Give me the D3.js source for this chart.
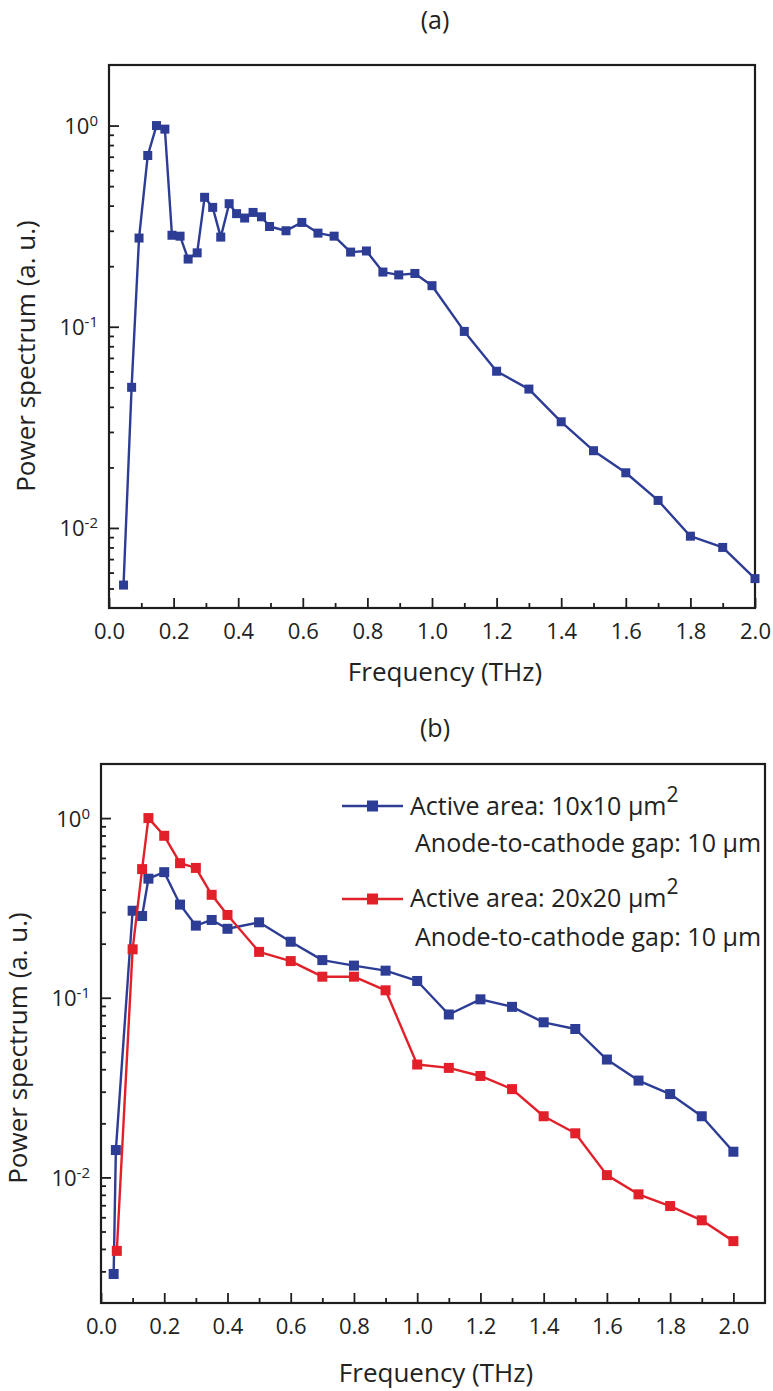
<!DOCTYPE html>
<html>
<head>
<meta charset="utf-8">
<script src="https://cdn.jsdelivr.net/npm/d3@7"></script>
<style>
  body { margin: 0; background: #fff; }
  svg text { font-family: "Open Sans", sans-serif; fill: #222; }
</style>
</head>
<body>
<svg id="chart" width="773" height="1391"></svg>
<script>
"use strict";

// ---- data ----
// (a) single device
var freqA = [0.045, 0.07, 0.093, 0.12, 0.147, 0.173, 0.195, 0.22, 0.245, 0.273, 0.296, 0.321, 0.346,
  0.372, 0.395, 0.42, 0.446, 0.472, 0.497, 0.548, 0.597, 0.647, 0.697, 0.748, 0.797, 0.848, 0.897,
  0.947, 1.0, 1.1, 1.2, 1.3, 1.4, 1.5, 1.6, 1.7, 1.8, 1.9, 2.0];
var powerA = [0.0052, 0.050, 0.276, 0.71, 1.0, 0.96, 0.285, 0.282, 0.217, 0.233, 0.44, 0.392, 0.279,
  0.409, 0.365, 0.347, 0.370, 0.352, 0.315, 0.30, 0.33, 0.292, 0.282, 0.235, 0.238, 0.187, 0.181,
  0.184, 0.160, 0.0948, 0.0601, 0.049, 0.0337, 0.0242, 0.0188, 0.0137, 0.0091, 0.0080, 0.0056];

// (b) 10x10 um2 active area
var freqB10 = [0.04, 0.047, 0.1, 0.13, 0.15, 0.2, 0.25, 0.3, 0.35, 0.4, 0.5, 0.6, 0.7, 0.8, 0.9,
  1.0, 1.1, 1.2, 1.3, 1.4, 1.5, 1.6, 1.7, 1.8, 1.9, 2.0];
var powerB10 = [0.0029, 0.0142, 0.305, 0.285, 0.46, 0.50, 0.33, 0.252, 0.271, 0.242, 0.263, 0.205,
  0.162, 0.151, 0.1415, 0.124, 0.0807, 0.098, 0.089, 0.073, 0.067, 0.0453, 0.0346, 0.0291, 0.0219, 0.0139];

// (b) 20x20 um2 active area
var freqB20 = [0.05, 0.1, 0.13, 0.15, 0.2, 0.25, 0.3, 0.35, 0.4, 0.5, 0.6, 0.7, 0.8, 0.9,
  1.0, 1.1, 1.2, 1.3, 1.4, 1.5, 1.6, 1.7, 1.8, 1.9, 2.0];
var powerB20 = [0.0039, 0.186, 0.52, 1.0, 0.797, 0.561, 0.528, 0.374, 0.289, 0.180, 0.160, 0.131,
  0.131, 0.110, 0.0425, 0.0407, 0.0367, 0.031, 0.0219, 0.0176, 0.0103, 0.00805, 0.00693, 0.00577, 0.00442];

var xTicks = [0, 0.2, 0.4, 0.6, 0.8, 1.0, 1.2, 1.4, 1.6, 1.8, 2.0];
var xTickLabels = ["0.0", "0.2", "0.4", "0.6", "0.8", "1.0", "1.2", "1.4", "1.6", "1.8", "2.0"];
var xMinorTicks = [0.1, 0.3, 0.5, 0.7, 0.9, 1.1, 1.3, 1.5, 1.7, 1.9];
var yDecades = [-2, -1, 0];

var legendLabels = ["Active area: 10x10 \u03bcm", "Active area: 20x20 \u03bcm"];
var legendNote = "Anode-to-cathode gap: 10 \u03bcm";

var BLUE = "#2d3c95", RED = "#e2202a", INK = "#1e1e1e";

var svg = d3.select("#chart");

function logMinorTicks(domain) {
  var out = [];
  for (var e = -3; e <= 0; e++) {
    for (var k = 2; k <= 9; k++) {
      var v = k * Math.pow(10, e);
      if (v > domain[0] && v < domain[1]) out.push(v);
    }
  }
  return out;
}

function drawPanel(p) {
  var g = svg.append("g");
  var x = d3.scaleLinear().domain(p.xDomain).range([p.left, p.right]);
  var y = d3.scaleLog().domain(p.yDomain).range([p.bottom, p.top]);

  // x axis, ticks pointing inward
  var gx = g.append("g").attr("transform", "translate(0," + p.bottom + ")")
    .call(d3.axisBottom(x).tickValues(xTicks).tickSize(-10).tickPadding(15)
      .tickFormat(function(d, i) { return xTickLabels[i]; }));
  gx.append("g").call(d3.axisBottom(x).tickValues(xMinorTicks).tickSize(-5).tickFormat(""));
  gx.selectAll(".domain").remove();
  gx.selectAll("line").attr("stroke", INK).attr("stroke-width", 1.8);
  gx.selectAll("text").attr("font-size", 22).attr("font-family", null).attr("fill", INK);

  // y axis, log, labels as 10^n
  var gy = g.append("g").attr("transform", "translate(" + p.left + ",0)")
    .call(d3.axisLeft(y).tickValues(yDecades.map(function(e) { return Math.pow(10, e); }))
      .tickSize(-10).tickPadding(11));
  gy.append("g").call(d3.axisLeft(y).tickValues(logMinorTicks(p.yDomain)).tickSize(-5).tickFormat(""));
  gy.selectAll(".domain").remove();
  gy.selectAll("line").attr("stroke", INK).attr("stroke-width", 1.8);
  gy.selectAll(".tick text").each(function(d) {
    var t = d3.select(this);
    if (t.text() === "") return;
    t.text(null).attr("dy", "0.36em").attr("font-size", 22).attr("font-family", null).attr("fill", INK);
    t.append("tspan").text("10");
    t.append("tspan").attr("dy", -8).attr("font-size", 15).text(Math.round(Math.log10(d)));
  });

  // frame
  g.append("rect")
    .attr("x", p.left).attr("y", p.top)
    .attr("width", p.right - p.left).attr("height", p.bottom - p.top)
    .attr("fill", "none").attr("stroke", INK).attr("stroke-width", 2.2);

  // series
  var line = d3.line().x(function(d) { return x(d[0]); }).y(function(d) { return y(d[1]); });
  p.series.forEach(function(s) {
    var pts = d3.zip(s.freq, s.power);
    g.append("path").datum(pts)
      .attr("fill", "none").attr("stroke", s.color).attr("stroke-width", 2.4)
      .attr("stroke-linejoin", "round").attr("d", line);
    g.selectAll(null).data(pts).enter().append("rect")
      .attr("x", function(d) { return x(d[0]) - p.marker / 2; })
      .attr("y", function(d) { return y(d[1]) - p.marker / 2; })
      .attr("width", p.marker).attr("height", p.marker)
      .attr("fill", s.color);
  });

  // titles
  g.append("text").attr("x", p.titleX).attr("y", p.titleY)
    .attr("text-anchor", "middle").attr("font-size", 25).text(p.title);
  g.append("text").attr("x", p.xLabelX).attr("y", p.xLabelY)
    .attr("text-anchor", "middle").attr("font-size", 26).text("Frequency (THz)");
  g.append("text")
    .attr("transform", "translate(" + p.yLabelX + "," + p.yLabelY + ") rotate(-90)")
    .attr("text-anchor", "middle").attr("font-size", 26).text("Power spectrum (a. u.)");

  return { x: x, y: y, g: g };
}

drawPanel({
  title: "(a)", titleX: 435, titleY: 29,
  left: 109, right: 755, top: 65, bottom: 608,
  xDomain: [0, 2.0], yDomain: [0.004, 2],
  xLabelX: 445, xLabelY: 681, yLabelX: 35, yLabelY: 356,
  marker: 9,
  series: [{ freq: freqA, power: powerA, color: BLUE }]
});

var panelB = drawPanel({
  title: "(b)", titleX: 435, titleY: 737,
  left: 101, right: 765, top: 764, bottom: 1303,
  xDomain: [0, 2.1], yDomain: [0.002, 2],
  xLabelX: 436, xLabelY: 1382, yLabelX: 27, yLabelY: 1048,
  marker: 10,
  series: [{ freq: freqB10, power: powerB10, color: BLUE },
           { freq: freqB20, power: powerB20, color: RED }]
});

// legend for (b)
var legendRows = [
  { label: legendLabels[0], color: BLUE, y: 806, base: 815, noteBase: 852 },
  { label: legendLabels[1], color: RED, y: 899, base: 907, noteBase: 946 }
];
var lg = panelB.g.append("g");
legendRows.forEach(function(r) {
  lg.append("line").attr("x1", 342).attr("x2", 403).attr("y1", r.y).attr("y2", r.y)
    .attr("stroke", r.color).attr("stroke-width", 2.4);
  lg.append("rect").attr("x", 372.5 - 5.5).attr("y", r.y - 5.5).attr("width", 11).attr("height", 11)
    .attr("fill", r.color);
  var t = lg.append("text").attr("x", 410).attr("y", r.base).attr("font-size", 25);
  t.append("tspan").text(r.label);
  t.append("tspan").attr("dy", -13).attr("font-size", 21).text("2");
  lg.append("text").attr("x", 415).attr("y", r.noteBase).attr("font-size", 25).text(legendNote);
});
</script>
</body>
</html>
